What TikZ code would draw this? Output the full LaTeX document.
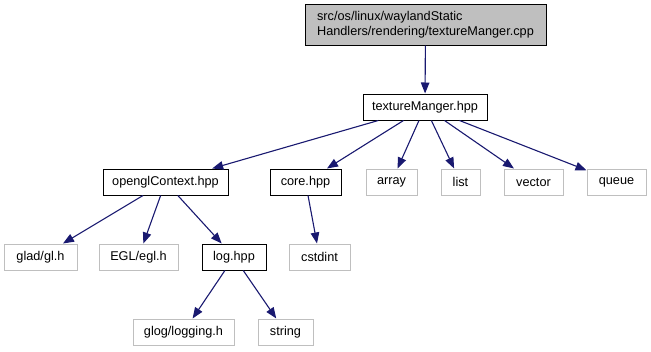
\documentclass[tikz,border=0pt]{standalone}
\usepackage{fontspec}
\setmainfont{Liberation Sans}
\usetikzlibrary{arrows.meta}
\definecolor{edgeblue}{HTML}{191970}
\definecolor{sysgray}{HTML}{BFBFBF}
\begin{document}
\begin{tikzpicture}[x=1pt,y=-1pt,
  filebox/.style={draw=black, line width=1pt, fill=white, inner sep=0pt,
    minimum height=26pt, font=\fontsize{12.7}{15}\selectfont},
  sysbox/.style={filebox, draw=sysgray},
  rootbox/.style={draw=black, line width=1pt, fill=sysgray, inner sep=0pt,
    minimum height=41pt, minimum width=241pt, align=left,
    font=\fontsize{12.7}{15}\selectfont},
  dep/.style={draw=edgeblue, line width=1.1pt,
    -{Triangle[length=11pt,width=8.5pt]}}]
\useasboundingbox (0,0) rectangle (651,351);

% source file at the top
\node[rootbox] (root) at (425.5,24.5)
  {src/os/linux/waylandStatic\\Handlers/rendering/textureManger.cpp};

% first level of includes
\node[filebox, minimum width=124pt] (tex) at (425,107) {textureManger.hpp};

% second level
\node[filebox, minimum width=125pt] (gl) at (165.5,182) {openglContext.hpp};
\node[filebox, minimum width=71pt] (core) at (305.5,182) {core.hpp};
\node[sysbox, minimum width=51pt] (array) at (391.5,182) {array};
\node[sysbox, minimum width=39pt] (list) at (460.5,182) {list};
\node[sysbox, minimum width=59pt] (vector) at (533.5,182) {vector};
\node[sysbox, minimum width=59pt] (queue) at (616.5,182) {queue};

% third level
\node[sysbox, minimum width=73pt] (glad) at (40.5,257) {glad/gl.h};
\node[sysbox, minimum width=79pt] (egl) at (138.5,257) {EGL/egl.h};
\node[filebox, minimum width=64pt] (log) at (234,257) {log.hpp};
\node[sysbox, minimum width=61pt] (cstdint) at (319.5,257) {cstdint};

% fourth level
\node[sysbox, minimum width=101pt] (glog) at (183.5,332) {glog/logging.h};
\node[sysbox, minimum width=55pt] (string) at (285.5,332) {string};

% include edges
\draw[dep] (root) -- (tex);
\foreach \t in {gl,core,array,list,vector,queue}
  \draw[dep] (tex) -- (\t);
\foreach \t in {glad,egl,log}
  \draw[dep] (gl) -- (\t);
\draw[dep] (core) -- (cstdint);
\draw[dep] (log) -- (glog);
\draw[dep] (log) -- (string);
\end{tikzpicture}
\end{document}
